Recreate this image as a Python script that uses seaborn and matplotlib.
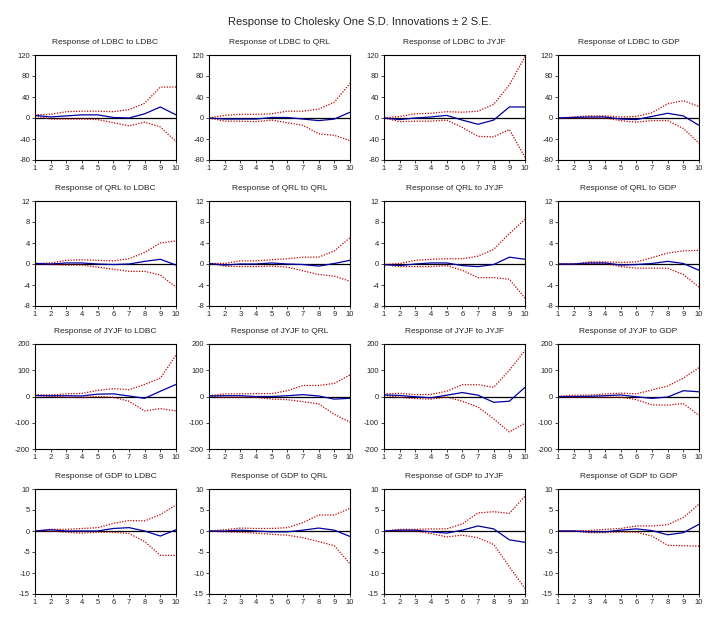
import numpy as np
import seaborn as sns
import matplotlib
matplotlib.use('Agg')
import matplotlib.pyplot as plt

sns.set_style('white')
plt.rcParams['font.family'] = ['Liberation Sans', 'DejaVu Sans']
plt.rcParams['axes.unicode_minus'] = False

periods = np.arange(1, 11)
variables = ['LDBC', 'QRL', 'JYJF', 'GDP']

# response of each variable (rows) to each shock (cols)
resp_LDBC = [[5, 2, 4, 6, 6, 1, 0, 8, 21, 6],
             [0, -2, -2, -2, 1, 1, -2, -5, -2, 11],
             [0, -3, 0, 2, 5, -4, -12, -4, 21, 21],
             [0, 1, 2, 2, -2, -3, 3, 9, 4, -14]]
upper_LDBC = [[6, 7, 12, 13, 13, 12, 16, 28, 59, 59],
              [0, 5, 7, 7, 8, 13, 13, 17, 30, 66],
              [0, 3, 8, 9, 12, 11, 13, 26, 63, 117],
              [0, 2, 4, 4, 2, 3, 10, 27, 33, 22]]
lower_LDBC = [[4, -2, -2, -2, -3, -9, -15, -8, -17, -45],
              [0, -6, -6, -7, -4, -9, -14, -30, -33, -43],
              [0, -7, -6, -6, -4, -18, -35, -36, -22, -75],
              [0, 0, 0, 0, -5, -8, -5, -5, -20, -48]]

resp_QRL = [[0.1, 0, 0.2, 0.2, 0, -0.1, 0, 0.5, 0.9, -0.2],
            [0.1, -0.2, 0, 0, 0.2, 0, -0.1, -0.4, 0.1, 0.7],
            [-0.1, -0.3, 0, 0.2, 0.2, -0.3, -0.5, -0.1, 1.3, 0.9],
            [0, 0, 0.2, 0.2, -0.2, -0.1, 0.1, 0.5, 0.1, -1.2]]
upper_QRL = [[0.1, 0.2, 0.7, 0.8, 0.7, 0.6, 1.0, 2.2, 4.0, 4.4],
             [0.1, 0.1, 0.6, 0.6, 0.8, 1.0, 1.3, 1.3, 2.5, 5.0],
             [-0.1, 0.1, 0.7, 0.9, 1.0, 1.0, 1.5, 2.8, 5.8, 8.5],
             [0, 0, 0.4, 0.4, 0.3, 0.4, 1.2, 2.1, 2.5, 2.6]]
lower_QRL = [[0.1, -0.1, -0.2, -0.2, -0.6, -1.0, -1.4, -1.4, -2.1, -4.4],
             [0.1, -0.4, -0.5, -0.5, -0.4, -0.6, -1.3, -2.0, -2.3, -3.3],
             [-0.1, -0.5, -0.5, -0.5, -0.3, -1.2, -2.6, -2.6, -2.9, -6.5],
             [0, 0, 0.1, 0.1, -0.5, -0.8, -0.8, -0.8, -2.0, -4.4]]

resp_JYJF = [[4, 3, 3, 2, 9, 10, 2, -7, 20, 46],
             [2, 3, 3, 0, 0, 3, 7, 2, -10, -7],
             [6, 4, -1, -5, 5, 15, 5, -22, -18, 35],
             [0, 0, 1, 3, 6, -1, -7, -2, 22, 18]]
upper_JYJF = [[6, 6, 10, 12, 23, 30, 26, 46, 70, 157],
              [3, 10, 10, 11, 11, 22, 42, 42, 50, 82],
              [10, 12, 7, 8, 20, 45, 45, 35, 100, 175],
              [0, 5, 5, 10, 13, 10, 25, 40, 70, 110]]
lower_JYJF = [[3, 1, -3, -4, 0, -3, -18, -55, -46, -55],
              [1, -3, -3, -3, -10, -12, -20, -28, -68, -98],
              [4, -3, -8, -10, -2, -18, -40, -85, -135, -102],
              [0, -3, -2, -3, -2, -12, -32, -33, -27, -72]]

resp_GDP = [[0, 0.3, 0, 0, 0, 0.6, 0.8, 0, -1.2, 0.3],
            [0, 0, 0.2, 0, -0.2, -0.2, 0.2, 0.7, 0.2, -1.3],
            [0, 0.2, 0.2, -0.2, -0.5, 0.2, 1.2, 0.5, -2.1, -2.7],
            [0, 0, -0.2, -0.2, 0.2, 0.5, 0.1, -0.9, -0.4, 1.6]]
upper_GDP = [[0, 0.4, 0.4, 0.6, 0.8, 1.8, 2.5, 2.4, 3.9, 6.2],
             [0, 0.3, 0.7, 0.6, 0.6, 0.8, 2.0, 3.8, 3.8, 5.4],
             [0, 0.4, 0.4, 0.5, 0.5, 1.7, 4.3, 4.6, 4.2, 8.3],
             [0, 0, 0.1, 0.4, 0.6, 1.2, 1.2, 1.5, 3.2, 6.4]]
lower_GDP = [[0, 0, -0.3, -0.5, -0.3, -0.3, -0.6, -2.5, -5.8, -5.8],
             [0, -0.2, -0.3, -0.5, -0.8, -1.0, -1.6, -2.5, -3.5, -7.8],
             [0, 0, 0, -0.6, -1.4, -1.0, -1.6, -3.2, -8.5, -13.7],
             [0, 0, -0.4, -0.4, -0.2, -0.3, -1.2, -3.4, -3.5, -3.6]]

resp = [resp_LDBC, resp_QRL, resp_JYJF, resp_GDP]
upper = [upper_LDBC, upper_QRL, upper_JYJF, upper_GDP]
lower = [lower_LDBC, lower_QRL, lower_JYJF, lower_GDP]

ylims = [(-80, 120), (-8, 12), (-200, 200), (-15, 10)]
yticks = [np.arange(-80, 121, 40), np.arange(-8, 13, 4),
          np.arange(-200, 201, 100), np.arange(-15, 11, 5)]

W, H = 720, 624
col_left = [35, 209, 384, 558]
row_top = [55, 201, 344, 489]
ax_w, ax_h = 141, 105

fig = plt.figure(figsize=(7.2, 6.24), dpi=100)
fig.text(0.5, 1 - 22 / H, 'Response to Cholesky One S.D. Innovations \u00b1 2 S.E.',
         ha='center', va='center', fontsize=8)

for r in range(4):
    for c in range(4):
        ax = fig.add_axes([col_left[c] / W, 1 - (row_top[r] + ax_h) / H, ax_w / W, ax_h / H])
        sns.lineplot(x=periods, y=upper[r][c], ax=ax, color='#C00000', linestyle=(0, (1, 1.2)), linewidth=0.9)
        sns.lineplot(x=periods, y=lower[r][c], ax=ax, color='#C00000', linestyle=(0, (1, 1.2)), linewidth=0.9)
        sns.lineplot(x=periods, y=resp[r][c], ax=ax, color='#0000A0', linewidth=0.9)
        ax.axhline(0, color='black', linewidth=0.9, zorder=1)
        ax.set_xlim(1, 10)
        ax.set_ylim(*ylims[r])
        ax.set_xticks(periods)
        ax.set_yticks(yticks[r])
        ax.tick_params(direction='out', length=2, width=0.6, labelsize=5.5, pad=1.5,
                       bottom=True, left=True)
        for s in ax.spines.values():
            s.set_linewidth(0.8)
            s.set_color('black')
        ax.set_xlabel('')
        ax.set_ylabel('')
        ax.set_title(f'Response of {variables[r]} to {variables[c]}', fontsize=6, pad=8)

fig.savefig('out.png', dpi=100)
